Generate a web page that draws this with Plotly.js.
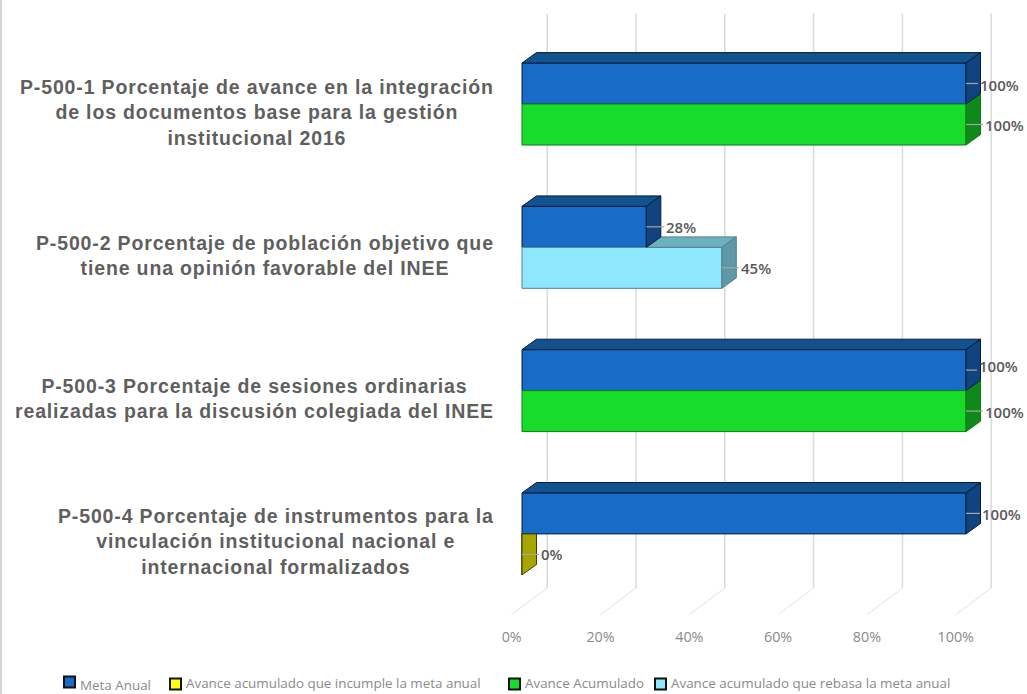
<!DOCTYPE html>
<html>
<head>
<meta charset="utf-8">
<script src="https://cdn.plot.ly/plotly-3.0.1.min.js"></script>
<style>
html,body{margin:0;padding:0;background:#fff}#c{width:1027px;height:694px}
text[style*="Liberation Sans"]{letter-spacing:.85px}
</style>
</head>
<body>
<div id="c"></div>
<script>
// ---- data ----
var categories = [
  "P-500-1 Porcentaje de avance en la integración<br>de los documentos base para la gestión<br>institucional 2016",
  "P-500-2 Porcentaje de población objetivo que<br>tiene una opinión favorable del INEE",
  "P-500-3 Porcentaje de sesiones ordinarias<br>realizadas para la discusión colegiada del INEE",
  "P-500-4 Porcentaje de instrumentos para la<br>vinculación institucional nacional e<br>internacional formalizados"
];
var metaAnual   = [100, 28, 100, 100];
var incumple    = [null, null, null, 0];
var acumulado   = [100, null, 100, null];
var rebasa      = [null, 45, null, null];
var xTicks      = [0, 20, 40, 60, 80, 100];
var xTickLabels = ["0%", "20%", "40%", "60%", "80%", "100%"];
var legendNames = ["Meta Anual", "Avance acumulado que incumple la meta anual", "Avance Acumulado", "Avance acumulado que rebasa la meta anual"];

// ---- styles and scale ----
var W = 1027, H = 694;
var PX_X = 4.44, PX_Y = 143.3;           // pixels per percent / per category
var X0 = 522, X0_FRONT = 511.7, Y0 = 104; // pixel of value 0 on bar plane / front plane, first category centre
var BAR_H = 41 / PX_Y;
var DX = 14.5 / PX_X, DY = 10.4 / PX_Y;   // bar depth
var idx = categories.map(function (c, i) { return i; });
function pxX(p) { return (p - X0) / PX_X; }
function pxY(p) { return (p - Y0) / PX_Y; }

var blue   = {front: "#196bc8", top: "#11528f", side: "#0f4480", edge: "#061c38"};
var yellow = {front: "#ffff00", top: "#a8a400", side: "#a8a400", edge: "#3c3c10"};
var green  = {front: "#18dc2a", top: "#0e8a1a", side: "#0e8a1a", edge: "#0d7a18"};
var cyan   = {front: "#8de8ff", top: "#6bb2be", side: "#5f98a6", edge: "#56808a"};

function barTrace(name, vals, col, offset) {
  return {type: "bar", orientation: "h", name: name, x: vals, y: idx, offset: offset, width: BAR_H,
          marker: {color: col.front, line: {color: col.edge, width: 1}}, hoverinfo: "x+name", showlegend: false};
}
function polyTrace(xs, ys, fill, edge) {
  return {type: "scatter", mode: "lines", x: xs, y: ys, fill: "toself", fillcolor: fill,
          line: {color: edge, width: 1}, hoverinfo: "skip", showlegend: false};
}
// top and side faces, derived from the series' values
function faces(vals, col, isLower) {
  var tx = [], ty = [], sx = [], sy = [];
  vals.forEach(function (v, i) {
    if (v === null) return;
    var yTop = isLower ? i : i - BAR_H, yBot = yTop + BAR_H;
    var m = metaAnual[i];
    if (!isLower || v > m) {
      var s = isLower ? m : 0;
      tx.push(s, s + DX, v + DX, v, s, null);
      ty.push(yTop, yTop - DY, yTop - DY, yTop, yTop, null);
    }
    var backTop = (isLower && v < m) ? yTop : yTop - DY;
    sx.push(v, v + DX, v + DX, v, v, null);
    sy.push(yTop, backTop, yBot - DY, yBot, yTop, null);
  });
  var out = [];
  if (tx.length) out.push(polyTrace(tx, ty, col.top, col.edge));
  out.push(polyTrace(sx, sy, col.side, col.edge));
  return out;
}

// data labels: value read from series, small pixel nudges to sit like the reference
var labelSeries = [
  {vals: metaAnual, lower: false, dx: [12, 18, 11, 14], dy: [1, 0.5, -4, 1]},
  {vals: acumulado, lower: true,  dx: [17, 0, 17, 0],   dy: [0, 0, 0.5, 0]},
  {vals: rebasa,    lower: true,  dx: [0, 17, 0, 0],    dy: [0, 0, 0, 0]},
  {vals: incumple,  lower: true,  dx: [0, 0, 0, 17],    dy: [0, 0, 0, 0]}
];
var annotations = [], leadX = [], leadY = [];
labelSeries.forEach(function (s) {
  s.vals.forEach(function (v, i) {
    if (v === null) return;
    var yc = s.lower ? i + BAR_H / 2 : i - BAR_H / 2;
    annotations.push({xref: "x", yref: "y", x: v, y: yc, xshift: s.dx[i], yshift: -s.dy[i],
      text: v + "%", showarrow: false, xanchor: "left", yanchor: "middle",
      font: {family: "Open Sans", size: 15, color: "#595959", weight: 600}});
    leadX.push(v, v + s.dx[i] / PX_X, null);
    leadY.push(yc, yc, null);
  });
});

// category labels
categories.forEach(function (c, i) {
  annotations.push({xref: "x", yref: "y", x: pxX(496), y: i, yshift: -8, text: c, showarrow: false,
    xanchor: "right", yanchor: "middle", align: "center",
    font: {family: "Liberation Sans", size: 19.5, color: "#5f5f5f", weight: 700}});
});

// legend (square swatches as in the reference)
var swatchCols = [blue, yellow, green, cyan];
var swatchPx = [64, 170, 509, 655];
var legendY = [682, 684, 684, 684];
var legendTextY = [685, 683, 683, 683];
var shapes = [];
legendNames.forEach(function (n, i) {
  shapes.push({type: "rect", xref: "paper", yref: "paper",
    x0: swatchPx[i] / W, x1: (swatchPx[i] + 11) / W,
    y0: 1 - (legendY[i] + 5.5) / H, y1: 1 - (legendY[i] - 5.5) / H,
    fillcolor: swatchCols[i].front, line: {color: "#111", width: 2}});
  annotations.push({xref: "paper", yref: "paper", x: (swatchPx[i] + 13.5) / W, y: 1 - legendTextY[i] / H,
    text: n, showarrow: false, xanchor: "left", yanchor: "middle",
    font: {family: "Open Sans", size: 13.4, color: "#8a8a8a"}});
});

// back wall gridlines and floor lines
var FLOOR_DX = 35.5 / PX_X;
var gridTop = pxY(13.5), gridBot = pxY(588), floorFront = pxY(614.6);
xTicks.forEach(function (t) {
  shapes.push({type: "line", layer: "below", xref: "x2", yref: "y",
    x0: t + FLOOR_DX, x1: t + FLOOR_DX, y0: gridTop, y1: gridBot,
    line: {color: "#dcdcdc", width: 1.6}});
});
shapes.push({type: "line", xref: "paper", yref: "paper", x0: 0.0008, x1: 0.0008, y0: 0, y1: 1,
  line: {color: "#d4d4d4", width: 2.5}});
var floorX = [], floorY = [];
xTicks.forEach(function (t) {
  floorX.push(t, t + FLOOR_DX, null);
  floorY.push(floorFront, gridBot, null);
});

var traces = [
  barTrace(legendNames[0], metaAnual, blue, -BAR_H),
  barTrace(legendNames[1], incumple, yellow, 0),
  barTrace(legendNames[2], acumulado, green, 0),
  barTrace(legendNames[3], rebasa, cyan, 0)
]
.concat(faces(rebasa, cyan, true))
.concat(faces(acumulado, green, true))
.concat(faces(incumple, yellow, true))
.concat(faces(metaAnual, blue, false))
.concat([
  {type: "scatter", mode: "lines", x: leadX, y: leadY, line: {color: "#a6a6a6", width: 1.2}, hoverinfo: "skip", showlegend: false},
  {type: "scatter", mode: "lines", xaxis: "x2", yaxis: "y", x: floorX, y: floorY, line: {color: "#e2e2e2", width: 1}, hoverinfo: "skip", showlegend: false}
]);

var layout = {
  width: W, height: H,
  margin: {l: 0, r: 0, t: 0, b: 0},
  paper_bgcolor: "#ffffff", plot_bgcolor: "#ffffff",
  barmode: "overlay",
  showlegend: false,
  xaxis: {range: [pxX(0), pxX(W)], visible: false, fixedrange: true},
  xaxis2: {overlaying: "x", anchor: "free", position: 1 - 627 / H, side: "bottom",
    range: [(0 - X0_FRONT) / PX_X, (W - X0_FRONT) / PX_X],
    tickmode: "array", tickvals: xTicks, ticktext: xTickLabels, ticks: "", showgrid: false, zeroline: false, showline: false,
    tickfont: {family: "Open Sans", size: 14.3, color: "#8a8a8a"}, fixedrange: true},
  yaxis: {range: [pxY(H), pxY(0)], visible: false, fixedrange: true},
  annotations: annotations,
  shapes: shapes
};
Plotly.newPlot("c", traces, layout, {displayModeBar: false, staticPlot: true});
</script>
</body>
</html>
